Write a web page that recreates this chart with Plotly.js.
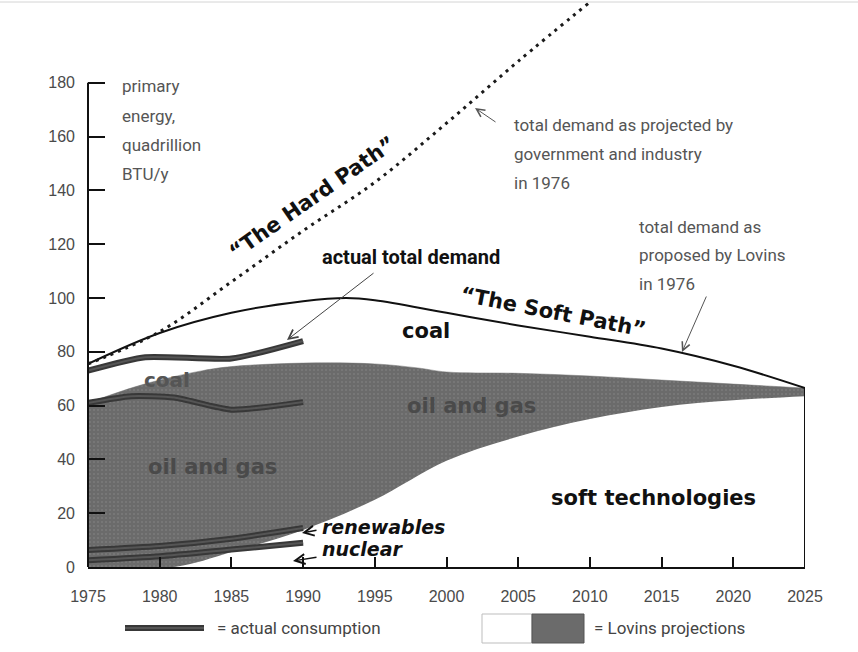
<!DOCTYPE html>
<html><head><meta charset="utf-8">
<script src="https://cdn.plot.ly/plotly-3.0.1.min.js"></script>
<style>html,body{margin:0;padding:0;background:#fff}</style>
</head><body>
<div id="chart" style="width:858px;height:652px"></div>
<script>
// ---- data (quadrillion BTU per year) ----
const hardYears = [1975,1980,1985,1990,1995,2000,2005,2010];
const hardPath  = [75.5,87.5,106,125,143,165,188,210];

const softYears = [1975,1980,1985,1990,1993,1995,2000,2005,2010,2015,2020,2025];
const softTotal = [75.5,87,94.5,98.8,100,99.2,94.5,89.8,85.6,81.2,74.8,66.5];

const oilGasTopYears = [1975,1978,1980,1983,1985,1990,1995,1998,2000,2005,2010,2015,2020,2025];
const oilGasTop      = [61,66.5,69.5,73,74.5,75.8,75.5,74,72.5,72,71,69.5,68,66.5];

const softTechYears = [1975,1981,1985,1990,1995,2000,2005,2010,2015,2020,2025];
const softTech      = [0,0,5.6,13.8,25,39.5,48.5,55,59.5,62,63.5];

const actualTotalYears = [1975,1979,1985,1990];
const actualTotal      = [73,78,77.5,84];
const actualOilGasYears = [1975,1978,1981,1985,1990];
const actualOilGas      = [61,63.5,63,58.5,61.3];
const actualSmallYears  = [1975,1980,1985,1990];
const actualRenewables  = [6.3,7.8,10.5,14.5];
const actualNuclear     = [2.5,4,6.5,9];

const xTicks = [1975,1980,1985,1990,1995,2000,2005,2010,2015,2020,2025];
const yTicks = [0,20,40,60,80,100,120,140,160,180];

// ---- styling ----
const GRAY = '#6b6b6b';
const LIGHT = 'Roboto, sans-serif';
const BOLD = 'DejaVu Sans, Verdana, sans-serif';
const L = 88, R = 805, T = 0, B = 567;
function P(px, py){ return {x:(px-L)/(R-L), y:(B-py)/(B-T)}; }
function txt(px, py, text, font, extra){
  const p = P(px, py);
  return Object.assign({xref:'paper', yref:'paper', x:p.x, y:p.y, text:text, showarrow:false,
    xanchor:'left', yanchor:'middle', font:font}, extra||{});
}
function arrow(hx, hy, tx, ty, color, width, size){
  const p = P(hx, hy);
  return {xref:'paper', yref:'paper', x:p.x, y:p.y, ax:tx-hx, ay:ty-hy, text:'',
    showarrow:true, arrowhead:5, arrowsize:size, arrowwidth:width, arrowcolor:color, standoff:0};
}
const lightFont = {family:LIGHT, size:17, color:'#555'};
const boldFont = s => ({family:BOLD, size:s, color:'#111', weight:'bold'});
const grayBold = (s,c) => ({family:BOLD, size:s, color:c, weight:'bold'});

function actualLine(x, y){
  return [
    {x:x, y:y, type:'scatter', mode:'lines', line:{color:'#383838', width:6, shape:'spline', smoothing:0.6}, hoverinfo:'skip'},
    {x:x, y:y, type:'scatter', mode:'lines', line:{color:'#555555', width:2, shape:'spline', smoothing:0.6}, hoverinfo:'skip'}
  ];
}

const traces = [
  {x:softTechYears, y:softTech, type:'scatter', mode:'lines', line:{width:0, shape:'spline', color:GRAY}, hoverinfo:'skip'},
  {x:oilGasTopYears, y:oilGasTop, type:'scatter', mode:'lines', fill:'tonexty', fillcolor:GRAY,
   fillpattern:{shape:'.', fgcolor:'#7a7a7a', bgcolor:GRAY, size:4, solidity:0.22, fillmode:'replace'},
   line:{width:0.5, shape:'spline', color:'#707070'}, hoverinfo:'skip'},
  {x:softYears, y:softTotal, type:'scatter', mode:'lines', line:{color:'#111', width:2, shape:'spline'}, hoverinfo:'skip'},
  {x:hardYears, y:hardPath, type:'scatter', mode:'lines', line:{color:'#1a1a1a', width:3, dash:'3px,5px', shape:'spline'}, hoverinfo:'skip'},
  // right frame at 2025 up to the projected total
  {x:[softYears[softYears.length-1], softYears[softYears.length-1]], y:[0, softTotal[softTotal.length-1]],
   type:'scatter', mode:'lines', line:{color:'#111', width:2}, hoverinfo:'skip'}
]
.concat(actualLine(actualTotalYears, actualTotal))
.concat(actualLine(actualOilGasYears, actualOilGas))
.concat(actualLine(actualSmallYears, actualRenewables))
.concat(actualLine(actualSmallYears, actualNuclear));

const annotations = [
  txt(120, 86, 'primary', lightFont),
  txt(120, 116, 'energy,', lightFont),
  txt(120, 145, 'quadrillion', lightFont),
  txt(120, 174, 'BTU/y', lightFont),
  txt(512, 125, 'total demand as projected by', lightFont),
  txt(512, 154, 'government and industry', lightFont),
  txt(512, 183, 'in 1976', lightFont),
  txt(637, 227, 'total demand as', lightFont),
  txt(637, 255, 'proposed by Lovins', lightFont),
  txt(637, 284, 'in 1976', lightFont),
  txt(312, 198, '\u201CThe Hard Path\u201D', boldFont(21), {xanchor:'center', textangle:-35}),
  txt(553, 312, '\u201CThe Soft Path\u201D', boldFont(21), {xanchor:'center', textangle:11}),
  txt(320, 257, 'actual total demand', {family:LIGHT, size:20, color:'#111', weight:'bold'}),
  txt(426, 331, 'coal', boldFont(21), {xanchor:'center'}),
  txt(167, 380, 'coal', grayBold(20, '#555'), {xanchor:'center'}),
  txt(471, 406, 'oil and gas', grayBold(21, '#4a4a4a'), {xanchor:'center'}),
  txt(212, 467, 'oil and gas', grayBold(21, '#4a4a4a'), {xanchor:'center'}),
  txt(653, 498, 'soft technologies', boldFont(21), {xanchor:'center'}),
  txt(320, 527, '<i>renewables</i>', boldFont(19)),
  txt(320, 549, '<i>nuclear</i>', boldFont(19)),
  arrow(302, 533, 318, 530, '#111', 1.5, 1.3),
  arrow(293, 561, 318, 557, '#111', 1.5, 1.3),
  arrow(475, 108, 497, 123, '#555', 1, 1.6),
  arrow(287, 340, 375, 272, '#444', 1, 1.8),
  arrow(682, 352, 707, 295, '#555', 1, 1.6),
  // legend texts
  txt(215, 628, '= actual consumption', {family:LIGHT, size:17, color:'#444'}),
  txt(592, 628, '= Lovins projections', {family:LIGHT, size:17, color:'#444'})
];

function rectP(x0, y0, x1, y1, fill, line){
  const a = P(x0, y0), b = P(x1, y1);
  return {type:'rect', xref:'paper', yref:'paper', x0:a.x, y0:a.y, x1:b.x, y1:b.y,
          fillcolor:fill, line:line||{width:0}};
}
function lineP(x0, y0, x1, y1, color, width){
  const a = P(x0, y0), b = P(x1, y1);
  return {type:'line', xref:'paper', yref:'paper', x0:a.x, y0:a.y, x1:b.x, y1:b.y, line:{color:color, width:width}};
}

const shapes = [
  // y axis line only up to 180
  {type:'line', xref:'paper', yref:'y', x0:0, x1:0, y0:0, y1:yTicks[yTicks.length-1], line:{color:'#111', width:2}},
  // scan border
  lineP(0, 2, 858, 2, '#d4d4d4', 1),
  // legend: actual consumption
  lineP(125, 628, 204, 628, '#383838', 6),
  lineP(125, 628, 204, 628, '#555555', 2),
  // legend: Lovins projections box
  rectP(482, 614, 532, 643, '#ffffff', {color:'#bdbdbd', width:1}),
  rectP(532, 614, 584, 643, GRAY, {color:'#555', width:1})
];

const layout = {
  width:858, height:652,
  margin:{l:L, r:858-R, t:T, b:652-B},
  paper_bgcolor:'#fff', plot_bgcolor:'#fff',
  showlegend:false,
  xaxis:{range:[1975,2025], tickvals:xTicks, ticktext:xTicks.map(String), ticks:'inside', ticklen:10, tickwidth:2,
         tickcolor:'#111', showline:true, linewidth:2, linecolor:'#111', showgrid:false, zeroline:false,
         tickfont:{family:'Liberation Sans, Arial, sans-serif', size:16, color:'#4a4a4a'}, ticklabelstandoff:14, fixedrange:true},
  yaxis:{range:[0, B/2.69], tickvals:yTicks, ticktext:yTicks.map(String), ticks:'inside', ticklen:17, tickwidth:2,
         tickcolor:'#111', showline:false, showgrid:false, zeroline:false,
         tickfont:{family:'Liberation Sans, Arial, sans-serif', size:16, color:'#4a4a4a'}, ticklabelstandoff:12, fixedrange:true},
  annotations:annotations,
  shapes:shapes
};

Plotly.newPlot('chart', traces, layout, {staticPlot:true, displayModeBar:false});
</script>
</body></html>
